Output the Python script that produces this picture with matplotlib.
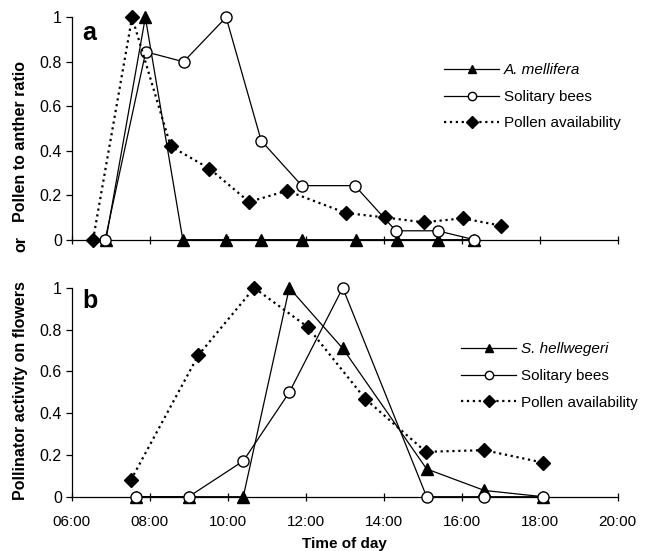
import numpy as np
import matplotlib.pyplot as plt

plt.rcParams['font.family'] = ['Liberation Sans', 'DejaVu Sans']

# panel a : times (hours of day) and values
t_mell_a = [6.88, 7.89, 8.85, 9.96, 10.85, 11.91, 13.29, 14.33, 15.40, 16.32]
mell_a = [0, 1.0, 0, 0, 0, 0, 0, 0, 0, 0]
t_sol_a = [6.86, 7.90, 8.87, 9.96, 10.86, 11.90, 13.26, 14.31, 15.38, 16.32]
sol_a = [0, 0.845, 0.80, 1.0, 0.445, 0.243, 0.243, 0.04, 0.04, 0.0]
t_pol_a = [6.55, 7.55, 8.54, 9.53, 10.55, 11.52, 13.03, 14.03, 15.02, 16.02, 17.01]
pol_a = [0, 1.0, 0.42, 0.32, 0.17, 0.22, 0.12, 0.10, 0.078, 0.096, 0.063]

# panel b
t_hell_b = [7.65, 9.0, 10.40, 11.58, 12.95, 15.10, 16.58, 18.09]
hell_b = [0, 0, 0, 1.0, 0.71, 0.133, 0.03, 0]
t_sol_b = [7.65, 9.0, 10.40, 11.58, 12.95, 15.10, 16.58, 18.09]
sol_b = [0, 0, 0.171, 0.50, 1.0, 0, 0, 0]
t_pol_b = [7.52, 9.25, 10.68, 12.05, 13.52, 15.08, 16.58, 18.09]
pol_b = [0.08, 0.678, 1.0, 0.813, 0.47, 0.215, 0.223, 0.163]

xticks = [6, 8, 10, 12, 14, 16, 18, 20]
xticklabels = ['06:00', '08:00', '10:00', '12:00', '14:00', '16:00', '18:00', '20:00']
yticks = [0, 0.2, 0.4, 0.6, 0.8, 1.0]
yticklabels = ['0', '0.2', '0.4', '0.6', '0.8', '1']

fig = plt.figure(figsize=(6.51, 5.51), dpi=100)
ax_a = fig.add_axes([0.110, 0.565, 0.839, 0.4036])
ax_b = fig.add_axes([0.110, 0.0985, 0.839, 0.379])


def style_axis(ax, show_xlabels):
    ax.set_xlim(6, 20)
    ax.set_ylim(0, 1)
    ax.spines['top'].set_visible(False)
    ax.spines['right'].set_visible(False)
    ax.spines['left'].set_linewidth(0.9)
    ax.spines['bottom'].set_linewidth(0.9)
    ax.set_xticks(xticks)
    if show_xlabels:
        ax.set_xticklabels(xticklabels, fontsize=11)
    else:
        ax.set_xticklabels([])
    ax.set_yticks(yticks)
    ax.set_yticklabels(yticklabels, fontsize=11.5)
    ax.tick_params(axis='x', direction='inout', length=6, width=0.9, pad=10)
    ax.tick_params(axis='y', direction='out', length=4, width=0.9, pad=3)


def draw_panel(ax, t1, v1, lab1, t2, v2, t3, v3, legend_pos):
    ax.plot(t1, v1, '-', color='black', lw=0.9, marker='^', ms=8.5,
            mfc='black', mec='black', clip_on=False, zorder=3, label=lab1)
    ax.plot(t2, v2, '-', color='black', lw=0.9, marker='o', ms=8,
            mfc='white', mec='black', mew=1.0, clip_on=False, zorder=4,
            label='Solitary bees')
    ax.plot(t3, v3, ':', color='black', lw=1.6, marker='D', ms=7,
            mfc='black', mec='black', clip_on=False, zorder=5,
            label='Pollen availability')
    leg = ax.legend(loc='center left', bbox_to_anchor=legend_pos, frameon=False,
                    fontsize=11, handlelength=3.6, handletextpad=0.3,
                    labelspacing=0.82, borderpad=0, borderaxespad=0)
    for h in leg.legend_handles:
        h.set_markersize(6)
    leg.get_texts()[0].set_style('italic')


draw_panel(ax_a, t_mell_a, mell_a, 'A. mellifera', t_sol_a, sol_a,
           t_pol_a, pol_a, (0.682, 0.642))
draw_panel(ax_b, t_hell_b, hell_b, 'S. hellwegeri', t_sol_b, sol_b,
           t_pol_b, pol_b, (0.713, 0.578))

style_axis(ax_a, False)
style_axis(ax_b, True)

ax_a.text(0.02, 0.985, 'a', transform=ax_a.transAxes, fontsize=18,
          fontweight='bold', va='top', ha='left')
ax_b.text(0.02, 0.995, 'b', transform=ax_b.transAxes, fontsize=18,
          fontweight='bold', va='top', ha='left')

ax_b.set_xlabel('Time of day', fontsize=11, fontweight='bold', labelpad=6)

fig.text(0.032, 0.597, 'Pollen to anther ratio', rotation=90, fontsize=11.5,
         fontweight='bold', ha='center', va='bottom')
fig.text(0.032, 0.557, 'or', rotation=90, fontsize=11.5,
         fontweight='bold', ha='center', va='center')
fig.text(0.032, 0.490, 'Pollinator activity on flowers', rotation=90, fontsize=11.5,
         fontweight='bold', ha='center', va='top')

fig.savefig('out.png', dpi=100)
